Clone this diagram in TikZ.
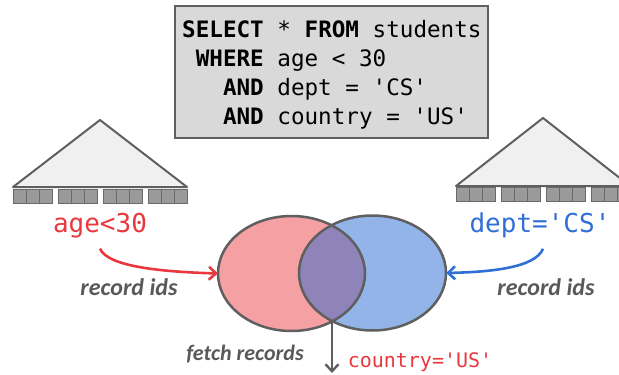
\documentclass[tikz,border=0pt]{standalone}
\usepackage{fontspec}
\setmainfont{Carlito}
\setmonofont{DejaVu Sans Mono}
\usetikzlibrary{arrows.meta,shapes.geometric,calc}
\definecolor{edgegray}{HTML}{5F5F5F}
\definecolor{boxfill}{HTML}{D9D9D9}
\definecolor{treefill}{HTML}{F0F0F0}
\definecolor{blkfill}{HTML}{9A9A9A}
\definecolor{blkedge}{HTML}{6A6A6A}
\definecolor{redtxt}{HTML}{E8383D}
\definecolor{bluetxt}{HTML}{2F6FD6}
\definecolor{pinkfill}{HTML}{F5A0A3}
\definecolor{bluefill}{HTML}{92B4E9}
\definecolor{purplefill}{HTML}{8F84B9}
\definecolor{labgray}{HTML}{595959}
\begin{document}
\begin{tikzpicture}[x=1pt,y=-1pt,
  sqlbox/.style={draw=edgegray,line width=2pt,fill=boxfill,inner sep=0pt},
  code/.style={inner sep=0pt,anchor=base west,font=\ttfamily\fontsize{22.6}{27}\selectfont,text=black},
  tree/.style={draw=edgegray,line width=2pt,fill=treefill,line join=round},
  blk/.style={draw=blkedge,line width=1pt,fill=blkfill},
  predred/.style={inner sep=0pt,font=\ttfamily\fontsize{26}{30}\selectfont,text=redtxt},
  predblue/.style={inner sep=0pt,font=\ttfamily\fontsize{26}{30}\selectfont,text=bluetxt},
  lab/.style={inner sep=0pt,font=\bfseries\itshape\fontsize{24}{28}\selectfont,text=labgray},
  setell/.style={ellipse,inner sep=0pt,minimum width=147pt,minimum height=115pt,draw=none},
  redarrow/.style={draw=redtxt,line width=2.6pt,-{Straight Barb[length=7pt,width=13pt,line width=2.6pt]}},
  bluearrow/.style={draw=bluetxt,line width=2.6pt,-{Straight Barb[length=7pt,width=13pt,line width=2.6pt]}},
  grayarrow/.style={draw=edgegray,line width=2.4pt,-{Straight Barb[length=7pt,width=13pt,line width=2.4pt]}}
]
\useasboundingbox (0,0) rectangle (619,375);

% SQL query box
\node[sqlbox,minimum width=313pt,minimum height=132pt,anchor=north west] (sql) at (174,5) {};
\node[code] (q1) at (182,37) {\textbf{SELECT} * \textbf{FROM} students};
\node[code] (q2) at (195.6,66) {\textbf{WHERE} age < 30};
\node[code] (q3) at (222.8,95) {\textbf{AND} dept = 'CS'};
\node[code] (q4) at (222.8,124) {\textbf{AND} country = 'US'};

% left index tree
\draw[tree] (13,187) -- (100,120) -- (187,187) -- cycle;
\foreach \g in {0,1,2,3}
  \foreach \i in {0,1,2}
    \draw[blk] ({13+\g*45+\i*13},189) rectangle +(13,14);

% right index tree
\draw[tree] (456,186) -- (543,118) -- (630,186) -- cycle;
\foreach \g in {0,1,2,3}
  \foreach \i in {0,1,2}
    \draw[blk] ({456+\g*45.3+\i*13},187) rectangle +(13,14);

% predicates
\node[predred] (age) at (100,226) {age<30};
\node[predblue] (dept) at (540,225) {dept='CS'};

% sets
\node[setell,fill=pinkfill] (L) at (291.5,273.5) {};
\node[setell,fill=bluefill] (R) at (372.5,273) {};
\begin{scope}
  \clip (L.center) ellipse [x radius=73.5, y radius=57.5];
  \fill[purplefill] (R.center) ellipse [x radius=73.5, y radius=57.5];
\end{scope}
\draw[edgegray,line width=2.5pt] (L.center) ellipse [x radius=73.5, y radius=57.5];
\draw[edgegray,line width=2.5pt] (R.center) ellipse [x radius=73.5, y radius=57.5];

% arrows into sets
\coordinate (ageout) at ($(age.south)+(0,10)$);
\coordinate (deptout) at ($(dept.south)+(3,11)$);
\draw[redarrow] (ageout) .. controls (108,268) and (170,272) .. (L.west);
\draw[bluearrow] (deptout) .. controls (535,268) and (490,272) .. (R.east);
\node[lab] (lab1) at (129,287) {record ids};
\node[lab] (lab2) at (546,287) {record ids};

% fetch
\coordinate (meet) at (332,321.5);
\coordinate (out) at (332,373);
\draw[grayarrow] (meet) -- (out);
\node[lab,font=\bfseries\itshape\fontsize{22}{26}\selectfont] (fetch) at (245,354) {fetch records};
\node[inner sep=0pt,font=\ttfamily\fontsize{20}{24}\selectfont,text=redtxt] (country) at (420,362) {country='US'};
\end{tikzpicture}
\end{document}
